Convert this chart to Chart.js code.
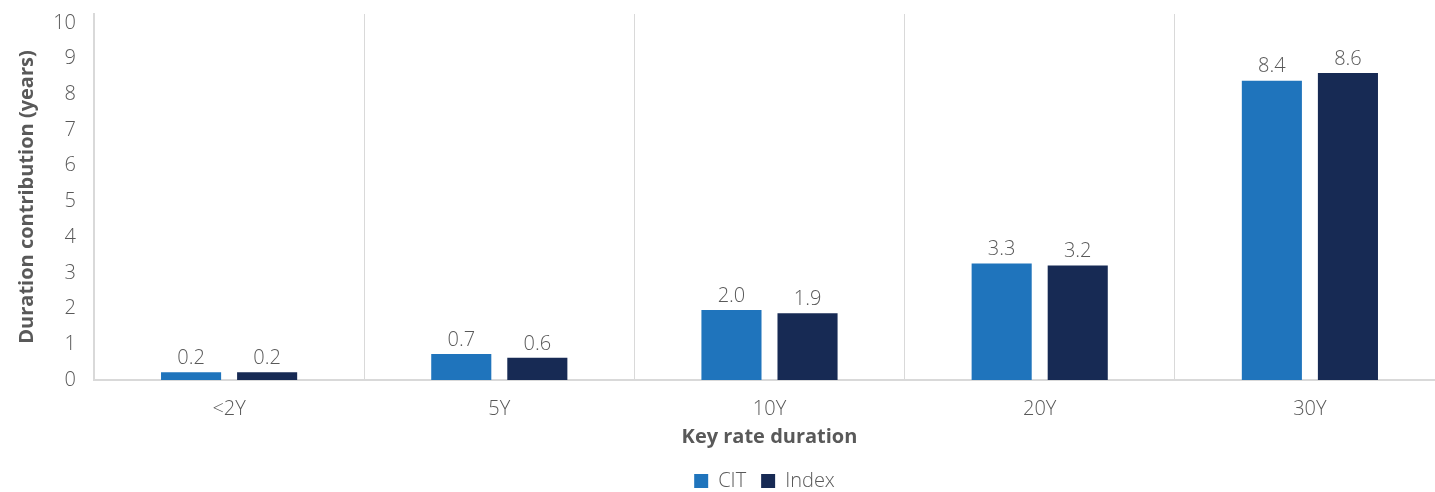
<!DOCTYPE html>
<html>
<head>
<meta charset="utf-8">
<script src="https://cdn.jsdelivr.net/npm/chart.js@4/dist/chart.umd.min.js"></script>
<style>
  html, body { margin: 0; padding: 0; background: #fff; overflow: hidden; }
  #wrap { width: 1445px; height: 492px; position: relative; }
</style>
</head>
<body>
<div id="wrap"><canvas id="barChart"></canvas></div>
<script>
const categories = ["<2Y", "5Y", "10Y", "20Y", "30Y"];
const citValues = [0.22, 0.73, 1.96, 3.26, 8.38];
const indexValues = [0.22, 0.62, 1.87, 3.21, 8.6];
const yTicks = [0, 1, 2, 3, 4, 5, 6, 7, 8, 9, 10];

const textGrey = "#595959";
const lineGrey = "#d9d9d9";
const fontFamily = "'Open Sans', 'Noto Sans', sans-serif";

// labels over the bars, one decimal like the original
const barLabels = {
    id: "barLabels",
    afterDatasetsDraw(chart) {
        const ctx = chart.ctx;
        ctx.save();
        ctx.font = "300 20px " + fontFamily;
        ctx.fillStyle = textGrey;
        ctx.textAlign = "center";
        ctx.textBaseline = "bottom";
        chart.data.datasets.forEach((ds, i) => {
            chart.getDatasetMeta(i).data.forEach((bar, j) => {
                ctx.fillText(ds.data[j].toFixed(1), bar.x, bar.y - 4);
            });
        });
        ctx.restore();
    }
};

// legend sits centred under the plot, not the whole canvas
const legendShift = {
    id: "legendShift",
    afterLayout(chart) {
        chart.legend.left += 42;
        chart.legend.right += 42;
    }
};

const barCanvas = document.getElementById("barChart");
const barChart = new Chart(barCanvas, {
    type: "bar",
    data: {
        labels: categories,
        datasets: [{
            label: "CIT",
            data: citValues,
            backgroundColor: "#1f74bc"
        }, {
            label: "Index",
            data: indexValues,
            backgroundColor: "#172a54"
        }]
    },
    options: {
        responsive: true,
        maintainAspectRatio: false,
        animation: false,
        events: [],
        datasets: {
            bar: {
                categoryPercentage: 0.563,
                barPercentage: 0.79
            }
        },
        layout: {
            padding: { top: 14, left: 0, right: 0, bottom: -9 }
        },
        scales: {
            x: {
                afterFit(scale) { scale.height = 76; },
                grid: {
                    offset: true,
                    color: lineGrey,
                    drawTicks: false
                },
                border: { color: lineGrey, width: 2 },
                ticks: {
                    color: textGrey,
                    padding: 17,
                    font: { family: fontFamily, size: 20, weight: "300" }
                },
                title: {
                    display: true,
                    text: "Key rate duration",
                    color: textGrey,
                    padding: { top: 0, bottom: 7 },
                    font: { family: fontFamily, size: 20, weight: "bold" }
                }
            },
            y: {
                min: 0,
                max: 10.25,
                afterBuildTicks(scale) {
                    scale.ticks = yTicks.map(v => ({ value: v }));
                },
                afterFit(scale) {
                    scale.width = 94;
                    scale.paddingTop = 0;
                    scale.paddingBottom = 0;
                },
                grid: { display: false, drawTicks: false },
                border: { color: lineGrey, width: 2 },
                ticks: {
                    color: textGrey,
                    padding: 18,
                    font: { family: fontFamily, size: 20, weight: "300" }
                },
                title: {
                    display: true,
                    text: "Duration contribution (years)",
                    color: textGrey,
                    padding: { top: 15, bottom: 0 },
                    font: { family: fontFamily, size: 20, weight: "bold" }
                }
            }
        },
        plugins: {
            legend: {
                position: "bottom",
                labels: {
                    color: textGrey,
                    boxWidth: 14,
                    boxHeight: 14,
                    padding: 15,
                    font: { family: fontFamily, size: 20, weight: "300" }
                }
            },
            tooltip: { enabled: false }
        }
    },
    plugins: [barLabels, legendShift]
});
</script>
</body>
</html>
